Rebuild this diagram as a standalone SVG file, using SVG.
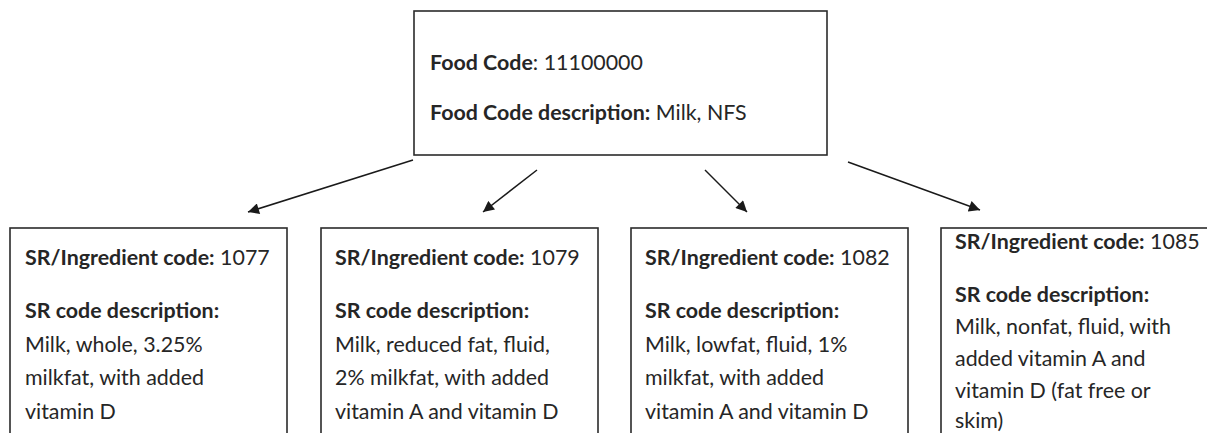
<svg xmlns="http://www.w3.org/2000/svg" width="1207" height="433" viewBox="0 0 1207 433">
<style>
.box{fill:#fff;stroke:#2b2b2b;stroke-width:1.6}
.t{font-family:Lato,"Liberation Sans",sans-serif;font-size:21.4px;fill:#262626}
.b{font-weight:bold}
.c{stroke:#1a1a1a;stroke-width:1.5;fill:none}
</style>
<defs>
<marker id="ah" viewBox="0 0 10 10" refX="10" refY="5" markerWidth="12" markerHeight="11" markerUnits="userSpaceOnUse" orient="auto">
<path d="M0,0 L10,5 L0,10 z" fill="#1a1a1a"/>
</marker>
</defs>
<rect width="1207" height="433" fill="#fff"/>
<g id="food">
<rect class="box" x="414" y="11" width="413" height="144"/>
<text class="t" x="430" y="70"><tspan class="b">Food Code</tspan>: 11100000</text>
<text class="t" x="430" y="120"><tspan class="b">Food Code description:</tspan> Milk, NFS</text>
</g>
<g id="sr1077">
<rect class="box" x="10" y="228" width="277" height="220"/>
<text class="t" x="25" y="265"><tspan class="b">SR/Ingredient code:</tspan> 1077</text>
<text class="t b" x="25" y="318">SR code description:</text>
<text class="t" x="25" y="352">Milk, whole, 3.25%</text>
<text class="t" x="25" y="385">milkfat, with added</text>
<text class="t" x="25" y="419">vitamin D</text>
</g>
<g id="sr1079">
<rect class="box" x="321" y="228" width="277" height="220"/>
<text class="t" x="335" y="265"><tspan class="b">SR/Ingredient code:</tspan> 1079</text>
<text class="t b" x="335" y="318">SR code description:</text>
<text class="t" x="335" y="352">Milk, reduced fat, fluid,</text>
<text class="t" x="335" y="385">2% milkfat, with added</text>
<text class="t" x="335" y="419">vitamin A and vitamin D</text>
</g>
<g id="sr1082">
<rect class="box" x="631" y="228" width="277" height="220"/>
<text class="t" x="645" y="265"><tspan class="b">SR/Ingredient code:</tspan> 1082</text>
<text class="t b" x="645" y="318">SR code description:</text>
<text class="t" x="645" y="352">Milk, lowfat, fluid, 1%</text>
<text class="t" x="645" y="385">milkfat, with added</text>
<text class="t" x="645" y="419">vitamin A and vitamin D</text>
</g>
<g id="sr1085">
<rect class="box" x="941" y="228" width="280" height="220"/>
<text class="t" x="955" y="249"><tspan class="b">SR/Ingredient code:</tspan> 1085</text>
<text class="t b" x="955" y="302">SR code description:</text>
<text class="t" x="955" y="334">Milk, nonfat, fluid, with</text>
<text class="t" x="955" y="366">added vitamin A and</text>
<text class="t" x="955" y="398">vitamin D (fat free or</text>
<text class="t" x="955" y="428">skim)</text>
</g>
<g id="connectors">
<line class="c" x1="413" y1="160" x2="248" y2="212" marker-end="url(#ah)"/>
<line class="c" x1="537" y1="170" x2="483" y2="212" marker-end="url(#ah)"/>
<line class="c" x1="705" y1="170" x2="747" y2="212" marker-end="url(#ah)"/>
<line class="c" x1="848" y1="162" x2="980" y2="210" marker-end="url(#ah)"/>
</g>
</svg>
